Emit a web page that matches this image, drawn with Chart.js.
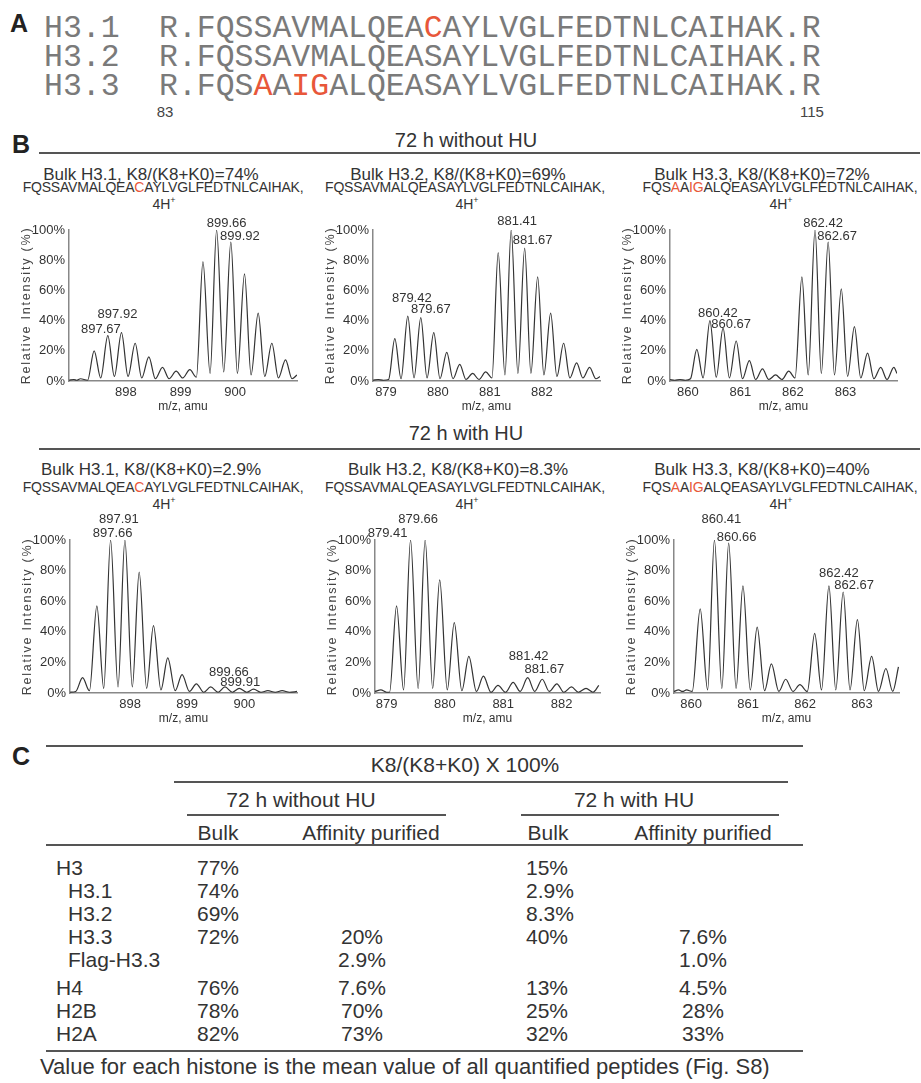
<!DOCTYPE html>
<html>
<head>
<meta charset="utf-8">
<script src="https://cdn.jsdelivr.net/npm/chart.js@4.4.0/dist/chart.umd.min.js"></script>
<style>
    body {
        margin: 0;
        width: 921px;
        height: 1083px;
        position: relative;
        overflow: hidden;
        background: #fff;
        font-family: "Liberation Sans", Arial, sans-serif;
        color: #333;
    }
    .t { position: absolute; white-space: nowrap; line-height: 1; }
    .mono { font-family: "Courier New", "Nimbus Mono PS", "FreeMono", "Liberation Mono", monospace; color: #7a7a7a; }
    .red { color: #e8573a; }
    .rule { position: absolute; background: #555; }
    .wrap { position: absolute; }
</style>
</head>
<body>
<script>
// ---- panel A ----
const seqLabels = ['H3.1', 'H3.2', 'H3.3'];
const sequences = [
    'R.FQSSAVMALQEACAYLVGLFEDTNLCAIHAK.R',
    'R.FQSSAVMALQEASAYLVGLFEDTNLCAIHAK.R',
    'R.FQSAAIGALQEASAYLVGLFEDTNLCAIHAK.R'
];
const residueStart = '83';
const residueEnd = '115';

// ---- panel B ----
const rowHeaders = ['72 h without HU', '72 h with HU'];
const titlesTop = ['Bulk H3.1, K8/(K8+K0)=74%', 'Bulk H3.2, K8/(K8+K0)=69%', 'Bulk H3.3, K8/(K8+K0)=72%'];
const titlesBottom = ['Bulk H3.1, K8/(K8+K0)=2.9%', 'Bulk H3.2, K8/(K8+K0)=8.3%', 'Bulk H3.3, K8/(K8+K0)=40%'];
const yTicks = [0, 20, 40, 60, 80, 100];

// top row: 72 h without HU
const t1Mz  = [896.96, 897.05, 897.10, 897.17, 897.30, 897.42, 897.54, 897.67, 897.79, 897.92, 898.04, 898.17, 898.29, 898.42, 898.54, 898.67, 898.79, 898.92, 899.04, 899.17, 899.29, 899.41, 899.54, 899.66, 899.79, 899.92, 900.04, 900.17, 900.29, 900.42, 900.54, 900.67, 900.79, 900.92, 901.04, 901.13];
const t1Int = [0.5, 1, 0.5, 1.5, 0.5, 20, 2, 30, 3, 32, 3, 25, 2, 16, 1.5, 9, 1.5, 6.5, 2, 7.5, 2.5, 79, 5, 100, 6, 92, 5, 71, 4, 45, 3, 25, 2, 14, 1.5, 4];
const t1Ticks = [898, 899, 900];
const t1Labels = ['897.67', '897.92', '899.66', '899.92'];

const t2Mz  = [878.75, 878.85, 878.95, 879.05, 879.17, 879.29, 879.42, 879.54, 879.67, 879.79, 879.92, 880.04, 880.17, 880.29, 880.42, 880.54, 880.67, 880.79, 880.92, 881.04, 881.16, 881.29, 881.41, 881.54, 881.67, 881.79, 881.92, 882.04, 882.17, 882.29, 882.42, 882.54, 882.67, 882.79, 882.92, 883.04, 883.12];
const t2Int = [0.5, 1, 0.5, 1, 28, 1.5, 43, 2, 42, 2, 32, 1.5, 19, 1.5, 11, 1, 5, 1, 6, 2, 85, 4, 100, 5, 88, 5, 69, 4, 45, 3, 25, 2, 12, 2, 9, 1.5, 3];
const t2Ticks = [879, 880, 881, 882];
const t2Labels = ['879.42', '879.67', '881.41', '881.67'];

const t3Mz  = [859.66, 859.75, 859.85, 859.95, 860.05, 860.17, 860.29, 860.42, 860.54, 860.67, 860.79, 860.92, 861.04, 861.17, 861.29, 861.42, 861.54, 861.67, 861.79, 861.92, 862.04, 862.17, 862.29, 862.42, 862.54, 862.67, 862.79, 862.92, 863.04, 863.17, 863.29, 863.42, 863.54, 863.67, 863.79, 863.92, 863.98];
const t3Int = [1, 0.5, 1, 0.5, 1.5, 21, 2, 40, 2.5, 35, 2, 26.5, 1.5, 13.5, 1, 8, 1, 4, 1, 6.5, 2, 69, 4, 100, 5, 92, 4, 61, 3, 36, 2, 18.5, 1.5, 9, 1, 9, 5];
const t3Ticks = [860, 861, 862, 863];
const t3Labels = ['860.42', '860.67', '862.42', '862.67'];

// bottom row: 72 h with HU
const b1Mz  = [896.95, 897.05, 897.17, 897.29, 897.42, 897.54, 897.66, 897.79, 897.91, 898.04, 898.16, 898.29, 898.41, 898.54, 898.66, 898.79, 898.91, 899.04, 899.16, 899.29, 899.41, 899.54, 899.66, 899.79, 899.91, 900.04, 900.16, 900.29, 900.41, 900.54, 900.66, 900.79, 900.92];
const b1Int = [0.5, 1, 10, 1.5, 57, 3, 100, 4, 100, 4, 79, 3, 44, 2, 23, 1.5, 12, 1, 6, 0.5, 4, 0.5, 4, 0.5, 3, 0.5, 2.5, 0.5, 1.5, 0.5, 1.5, 0.5, 1];
const b1Ticks = [898, 899, 900];
const b1Labels = ['897.91', '897.66', '899.66', '899.91'];

const b2Mz  = [878.80, 878.90, 879.00, 879.05, 879.17, 879.29, 879.41, 879.54, 879.66, 879.79, 879.91, 880.04, 880.16, 880.29, 880.41, 880.54, 880.66, 880.79, 880.91, 881.04, 881.17, 881.29, 881.42, 881.54, 881.67, 881.79, 881.92, 882.04, 882.17, 882.29, 882.42, 882.54, 882.64];
const b2Int = [1, 2, 0.5, 0.5, 57, 2, 100, 3, 100, 3, 74, 2, 46, 1.5, 24, 1, 11, 0.5, 5, 0.5, 7, 1, 10, 1, 9, 1, 6, 0.5, 4, 0.5, 3, 0.5, 5];
const b2Ticks = [879, 880, 881, 882];
const b2Labels = ['879.66', '879.41', '881.42', '881.67'];

const b3Mz  = [859.70, 859.78, 859.85, 859.92, 860.02, 860.16, 860.29, 860.41, 860.54, 860.66, 860.79, 860.91, 861.04, 861.16, 861.29, 861.41, 861.54, 861.66, 861.79, 861.91, 862.04, 862.17, 862.29, 862.42, 862.54, 862.67, 862.79, 862.92, 863.04, 863.17, 863.29, 863.42, 863.54, 863.64];
const b3Int = [1, 2, 1, 2, 1, 55, 2, 100, 3, 98, 3, 70, 2, 43, 1.5, 19, 1, 9, 1, 5.5, 1, 39, 2, 70, 2, 66, 2, 48, 1.5, 24, 1, 16, 1, 17];
const b3Ticks = [860, 861, 862, 863];
const b3Labels = ['860.41', '860.66', '862.42', '862.67'];

// ---- panel C ----
const tableRows = ['H3', 'H3.1', 'H3.2', 'H3.3', 'Flag-H3.3', 'H4', 'H2B', 'H2A'];
const bulkNoHU = ['77%', '74%', '69%', '72%', '', '76%', '78%', '82%'];
const affNoHU  = ['', '', '', '20%', '2.9%', '7.6%', '70%', '73%'];
const bulkHU   = ['15%', '2.9%', '8.3%', '40%', '', '13%', '25%', '32%'];
const affHU    = ['', '', '', '7.6%', '1.0%', '4.5%', '28%', '33%'];
const footnote = 'Value for each histone is the mean value of all quantified peptides (Fig. S8)';

document.addEventListener('DOMContentLoaded', function() {
    function addText(html, x, base, size, align, cls, extra) {
        const el = document.createElement('div');
        el.className = 't' + (cls ? ' ' + cls : '');
        el.innerHTML = html;
        el.style.fontSize = size + 'px';
        const asc = cls && cls.indexOf('mono') >= 0 ? 0.767 : 0.846;
        el.style.top = (base - asc * size) + 'px';
        el.style.left = x + 'px';
        if (align === 'center') el.style.transform = 'translateX(-50%)';
        if (align === 'right') el.style.transform = 'translateX(-100%)';
        if (extra) Object.assign(el.style, extra);
        document.body.appendChild(el);
        return el;
    }
    function addRule(x1, x2, y, th) {
        const r = document.createElement('div');
        r.className = 'rule';
        r.style.left = x1 + 'px';
        r.style.width = (x2 - x1) + 'px';
        r.style.top = (y - th / 2) + 'px';
        r.style.height = th + 'px';
        document.body.appendChild(r);
    }
    // red marks where a variant differs from H3.2
    function markDiff(seq, ref) {
        return seq.split('').map((c, i) => c !== ref[i] ? '<span class="red">' + c + '</span>' : c).join('');
    }

    // Panel A
    addText('A', 10, 32, 25, 'left', '', { fontWeight: 'bold', color: '#222' });
    const aBase = [37, 66, 95];
    seqLabels.forEach((lab, i) => {
        addText(lab, 44, aBase[i], 31.5, 'left', 'mono');
        addText(markDiff(sequences[i], sequences[1]), 159, aBase[i], 31.5, 'left', 'mono');
    });
    addText(residueStart, 165, 117, 15, 'center', '', { color: '#444' });
    addText(residueEnd, 812, 117, 15, 'center', '', { color: '#444' });

    // Panel B headers
    addText('B', 12, 153, 25, 'left', '', { fontWeight: 'bold', color: '#222' });
    addText(rowHeaders[0], 466, 147, 20, 'center');
    addRule(39, 920, 153, 2);
    addText(rowHeaders[1], 466, 440, 20, 'center');
    addRule(39, 920, 449, 2);

    const rows = [
        { plotTop: 230, plotBottom: 381, lefts: [69, 373, 670], rights: [297, 600, 897], titleBase: 180, pepBase: 192, ionBase: 208, titles: titlesTop },
        { plotTop: 540, plotBottom: 693, lefts: [70, 375, 674], rights: [297, 600, 899], titleBase: 475, pepBase: 492, ionBase: 508, titles: titlesBottom }
    ];
    const titleX = [151, 458, 762];
    const pepX = [163, 465, 780];
    const ionX = [164, 467, 781];

    rows.forEach(r => {
        for (let c = 0; c < 3; c++) {
            addText(r.titles[c], titleX[c], r.titleBase, 17, 'center');
            addText(markDiff(sequences[c].slice(2, -2), sequences[1].slice(2, -2)) + ',', pepX[c], r.pepBase, 14, 'center', '', { letterSpacing: '-0.2px' });
            addText('4H<sup style="font-size:9px;vertical-align:6px">+</sup>', ionX[c], r.ionBase, 14, 'center');
        }
    });

    const spectra = [
        { row: 0, col: 0, mz: t1Mz, y: t1Int, min: 896.96, max: 901.13, ticks: t1Ticks, labels: t1Labels, off: [[-7, -3], [-4, -15], [10, -3], [9, -2]] },
        { row: 0, col: 1, mz: t2Mz, y: t2Int, min: 878.75, max: 883.12, ticks: t2Ticks, labels: t2Labels, off: [[4, -14], [10, -5], [6, -5], [8, -4]] },
        { row: 0, col: 2, mz: t3Mz, y: t3Int, min: 859.66, max: 863.98, ticks: t3Ticks, labels: t3Labels, off: [[8, -4], [8, 0], [8, -3], [9, -2]] },
        { row: 1, col: 0, mz: b1Mz, y: b1Int, min: 896.95, max: 900.92, ticks: b1Ticks, labels: b1Labels, off: [[-6, -17], [2, -3], [4, -11], [1, -2]] },
        { row: 1, col: 1, mz: b2Mz, y: b2Int, min: 878.80, max: 882.66, ticks: b2Ticks, labels: b2Labels, off: [[-7, -17], [-23, -3], [1, -18], [2, -6]] },
        { row: 1, col: 2, mz: b3Mz, y: b3Int, min: 859.70, max: 863.65, ticks: b3Ticks, labels: b3Labels, off: [[7, -17], [8, -2], [10, -9], [11, -3]] }
    ];

    const PAD_TOP = 36, Y_W = 60, X_H = 33, PAD_R = 10;

    spectra.forEach(sp => {
        const r = rows[sp.row];
        const left = r.lefts[sp.col], right = r.rights[sp.col];
        const w = Y_W + (right - left) + PAD_R;
        const h = PAD_TOP + (r.plotBottom - r.plotTop) + X_H;
        const canvas = document.createElement('canvas');
        canvas.width = w;
        canvas.height = h;
        canvas.className = 'wrap';
        canvas.style.left = (left - Y_W) + 'px';
        canvas.style.top = (r.plotTop - PAD_TOP) + 'px';
        canvas.style.width = w + 'px';
        canvas.style.height = h + 'px';
        document.body.appendChild(canvas);

        const peakLabels = {
            id: 'peakLabels',
            afterDatasetsDraw(chart) {
                const ctx = chart.ctx;
                const xs = chart.scales.x, ys = chart.scales.y;
                ctx.save();
                ctx.font = '13px "Liberation Sans", Arial, sans-serif';
                ctx.fillStyle = '#333';
                ctx.textAlign = 'center';
                ctx.textBaseline = 'alphabetic';
                sp.labels.forEach((txt, i) => {
                    const target = parseFloat(txt);
                    let best = 0;
                    sp.mz.forEach((m, j) => { if (Math.abs(m - target) < Math.abs(sp.mz[best] - target)) best = j; });
                    const px = xs.getPixelForValue(sp.mz[best]) + sp.off[i][0];
                    const py = ys.getPixelForValue(sp.y[best]) + sp.off[i][1];
                    ctx.fillText(txt, px, py);
                });
                ctx.restore();
            }
        };
        const yTitle = {
            id: 'yTitle',
            afterDraw(chart) {
                const ctx = chart.ctx;
                const a = chart.chartArea;
                ctx.save();
                ctx.translate(a.left - 42, (a.top + a.bottom) / 2);
                ctx.rotate(-Math.PI / 2);
                ctx.font = '12.5px "Liberation Sans", Arial, sans-serif';
                ctx.letterSpacing = '1.8px';
                ctx.fillStyle = '#444';
                ctx.textAlign = 'center';
                ctx.textBaseline = 'middle';
                ctx.fillText('Relative Intensity (%)', 0, 0);
                ctx.restore();
            }
        };

        new Chart(canvas, {
            type: 'line',
            data: {
                datasets: [{
                    data: sp.mz.map((m, i) => ({ x: m, y: sp.y[i] })),
                    borderColor: '#333',
                    borderWidth: 1.2,
                    pointRadius: 0,
                    cubicInterpolationMode: 'monotone',
                    fill: false
                }]
            },
            options: {
                responsive: false,
                animation: false,
                events: [],
                layout: { padding: { top: PAD_TOP, right: PAD_R, left: 0, bottom: 0 } },
                plugins: { legend: { display: false }, tooltip: { enabled: false } },
                scales: {
                    x: {
                        type: 'linear',
                        min: sp.min,
                        max: sp.max,
                        grid: { display: false, drawTicks: false },
                        border: { display: true, color: '#888', width: 1.5 },
                        afterBuildTicks: s => { s.ticks = sp.ticks.map(v => ({ value: v })); },
                        ticks: { font: { size: 13 }, color: '#333', padding: 4, maxRotation: 0, autoSkip: false, callback: v => String(v) },
                        title: { display: true, text: 'm/z, amu', font: { size: 12 }, color: '#333', padding: { top: 0, bottom: 0 } },
                        afterFit: s => { s.height = X_H; }
                    },
                    y: {
                        min: 0,
                        max: 100,
                        grid: { display: false, drawTicks: false },
                        border: { display: true, color: '#888', width: 1.5 },
                        afterBuildTicks: s => { s.ticks = yTicks.map(v => ({ value: v })); },
                        ticks: { font: { size: 13 }, color: '#333', padding: 4, callback: v => v + '%' },
                        afterFit: s => { s.width = Y_W; }
                    }
                }
            },
            plugins: [peakLabels, yTitle]
        });
    });

    // Panel C
    addText('C', 12, 765, 25, 'left', '', { fontWeight: 'bold', color: '#222' });
    addRule(46, 803, 746, 2);
    addText('K8/(K8+K0) X 100%', 465, 772, 21, 'center');
    addRule(174, 788, 782, 1.5);
    addText(rowHeaders[0], 301, 807, 21, 'center');
    addText(rowHeaders[1], 634, 807, 21, 'center');
    addRule(187, 446, 815, 1.5);
    addRule(521, 779, 815, 1.5);
    addText('Bulk', 218, 840, 21, 'center');
    addText('Affinity purified', 371, 840, 21, 'center');
    addText('Bulk', 548, 840, 21, 'center');
    addText('Affinity purified', 703, 840, 21, 'center');
    addRule(46, 803, 845, 2);

    const rowBase = [875, 898, 921, 944, 967, 995, 1018, 1041];
    const indent = [56, 68, 68, 68, 68, 56, 56, 56];
    tableRows.forEach((lab, i) => {
        addText(lab, indent[i], rowBase[i], 21, 'left');
        if (bulkNoHU[i]) addText(bulkNoHU[i], 197, rowBase[i], 21, 'left');
        if (affNoHU[i]) addText(affNoHU[i], 362, rowBase[i], 21, 'center');
        if (bulkHU[i]) addText(bulkHU[i], 526, rowBase[i], 21, 'left');
        if (affHU[i]) addText(affHU[i], 703, rowBase[i], 21, 'center');
    });
    addRule(46, 803, 1051, 1.5);
    addText(footnote, 40, 1075, 22, 'left');
});
</script>
</body>
</html>
